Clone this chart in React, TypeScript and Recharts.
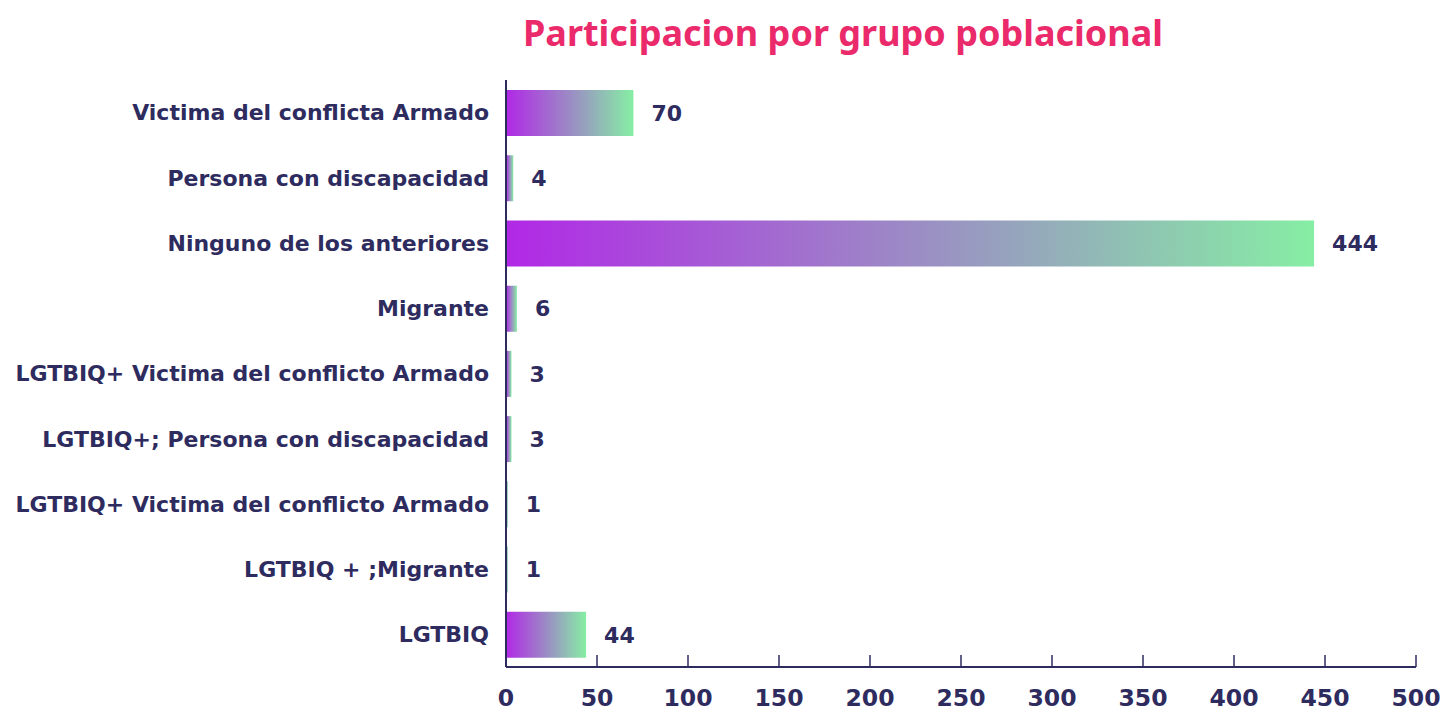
import React from 'react';
import { BarChart, Bar, XAxis, YAxis, LabelList } from 'recharts';

const categories = [
  'Victima del conflicta Armado',
  'Persona con discapacidad',
  'Ninguno de los anteriores',
  'Migrante',
  'LGTBIQ+ Victima del conflicto Armado',
  'LGTBIQ+; Persona con discapacidad',
  'LGTBIQ+ Victima del conflicto Armado ',
  'LGTBIQ + ;Migrante',
  'LGTBIQ',
];
const values = [70, 4, 444, 6, 3, 3, 1, 1, 44];
const xTicks = [0, 50, 100, 150, 200, 250, 300, 350, 400, 450, 500];

const data = categories.map((name, i) => ({ name, value: values[i] }));

const NAVY = '#2e2b5f';
const FONT = '"DejaVu Sans", "Noto Sans", sans-serif';

const XTick = (props: any) => {
  const { x, y, payload } = props;
  return (
    <g>
      <line x1={x} x2={x} y1={y} y2={y - 12} stroke={NAVY} strokeWidth={1.5} />
      <text x={x} y={y + 39} textAnchor="middle" fill={NAVY} fontSize={23.5} fontWeight={600} fontFamily={FONT}>
        {payload.value}
      </text>
    </g>
  );
};

export default function App() {
  return (
    <div style={{ position: 'absolute', left: 0, top: 0, width: 1451, height: 714, background: '#fff' }}>
      <div
        style={{
          position: 'absolute',
          left: 443,
          width: 800,
          top: 8,
          textAlign: 'center',
          color: '#ea2a6a',
          fontFamily: '"Noto Sans", sans-serif',
          fontWeight: 700,
          fontSize: 36,
        }}
      >
        Participacion por grupo poblacional
      </div>
      <BarChart
        width={1451}
        height={714}
        data={data}
        layout="vertical"
        margin={{ top: 80, right: 35, bottom: 7, left: 10 }}
      >
        <defs>
          <linearGradient id="barGrad" x1="0" y1="0" x2="1" y2="0">
            <stop offset="0%" stopColor="#b128e6" />
            <stop offset="100%" stopColor="#86eea4" />
          </linearGradient>
        </defs>
        <XAxis
          type="number"
          domain={[0, 500]}
          ticks={xTicks}
          height={40}
          axisLine={{ stroke: NAVY, strokeWidth: 2 }}
          tickLine={false}
          tickSize={0}
          tickMargin={0}
          tick={<XTick />}
          interval={0}
        />
        <YAxis
          type="category"
          dataKey="name"
          width={496}
          axisLine={{ stroke: NAVY, strokeWidth: 2 }}
          tickLine={false}
          tickMargin={11}
          interval={0}
          tick={{ fill: NAVY, fontSize: 22, fontWeight: 600, fontFamily: FONT }}
        />
        <Bar dataKey="value" fill="url(#barGrad)" barSize={46} isAnimationActive={false}>
          <LabelList
            dataKey="value"
            position="right"
            offset={18}
            fill={NAVY}
            fontSize={22}
            fontWeight={600}
            fontFamily={FONT}
          />
        </Bar>
      </BarChart>
    </div>
  );
}
